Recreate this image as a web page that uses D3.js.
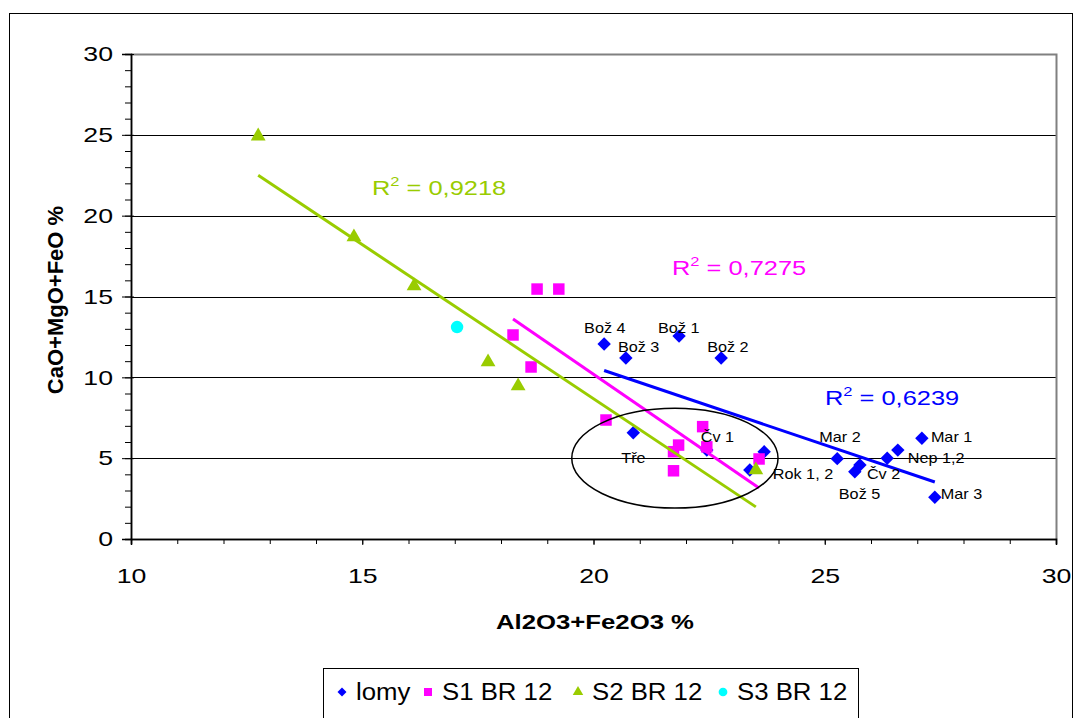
<!DOCTYPE html>
<html>
<head>
<meta charset="utf-8">
<title>CaO+MgO+FeO vs Al2O3+Fe2O3</title>
<script src="https://cdnjs.cloudflare.com/ajax/libs/d3/7.8.5/d3.min.js"></script>
<style>
  html, body { margin: 0; padding: 0; background: #fff; }
  svg { display: block; font-family: Arial, 'Liberation Sans', sans-serif; }
</style>
</head>
<body>
<svg id="chart" width="1079" height="718"></svg>
<script>
// ---- data ----
var seriesNames = ['lomy', 'S1 BR 12', 'S2 BR 12', 'S3 BR 12'];

var lomyX = [20.23, 20.70, 21.85, 22.76, 20.86, 22.45, 23.69, 23.38, 25.27, 25.76, 25.65, 26.35, 26.58, 27.10, 27.38];
var lomyY = [12.06, 11.20, 12.55, 11.20, 6.57, 5.50, 5.40, 4.27, 4.97, 4.58, 4.16, 5.00, 5.50, 6.23, 2.58];
var lomyLabels = ['Bož 4', 'Bož 3', 'Bož 1', 'Bož 2', 'Tře', 'Čv 1', '', 'Rok 1, 2', 'Mar 2', 'Čv 2', 'Bož 5', '', 'Nep 1,2', 'Mar 1', 'Mar 3'];

var s1X = [18.78, 19.25, 18.26, 18.65, 20.27, 22.36, 21.84, 21.73, 22.45, 21.73, 23.58];
var s1Y = [15.46, 15.46, 12.62, 10.64, 7.36, 6.95, 5.81, 5.40, 5.70, 4.22, 4.95];

var s2X = [12.75, 14.82, 16.12, 17.72, 18.37, 23.51];
var s2Y = [24.92, 18.68, 15.65, 10.95, 9.46, 4.27];

var s3X = [17.05];
var s3Y = [13.11];

var r2Labels = ['0,6239', '0,7275', '0,9218']; // lomy, S1, S2

var xTicks = [10, 15, 20, 25, 30];
var yTicks = [0, 5, 10, 15, 20, 25, 30];

// ---- layout / style ----
var colors = ['#0000ff', '#ff00ff', '#99cc00', '#00ffff'];
var shapes = ['diamond', 'square', 'triangle', 'circle'];
var markerSize = { diamond: 90, square: 132, triangle: 95, circle: 123 };
var legendSize = { diamond: 40, square: 64, triangle: 48, circle: 60 };

// label offsets from the marker, in px (left of text, baseline)
var labelOffsets = {
  'Bož 4': [-20, -11], 'Bož 1': [-21, -3], 'Bož 3': [-8, -6], 'Bož 2': [-14, -6],
  'Tře': [-12, 30], 'Čv 1': [-6, -8], 'Rok 1, 2': [23, 9], 'Mar 2': [-18, -17],
  'Mar 1': [9, 4], 'Nep 1,2': [10, 13], 'Čv 2': [7, 14], 'Bož 5': [-16, 27], 'Mar 3': [6, 2]
};
// R² label anchors (px: left, baseline)
var r2Pos = [[825, 405], [672, 275], [372, 195]];

// the original picture is stretched sideways; mimic it on the text
function stretch(sel, k) {
  sel.each(function () {
    var w = this.getComputedTextLength();
    d3.select(this).attr('textLength', w * k).attr('lengthAdjust', 'spacingAndGlyphs');
  });
}

var svg = d3.select('#chart');
var x = d3.scaleLinear().domain([10, 30]).range([131, 1056]);
var y = d3.scaleLinear().domain([0, 30]).range([539, 54]);

// outer chart border
svg.append('rect').attr('x', 9.5).attr('y', 13.5).attr('width', 1063).attr('height', 730)
  .attr('fill', 'none').attr('stroke', '#000').attr('stroke-width', 1);

// gridlines
svg.append('g').selectAll('line').data(yTicks.filter(function (d) { return d > 0 && d < 30; }))
  .join('line')
  .attr('x1', x(10)).attr('x2', x(30))
  .attr('y1', function (d) { return Math.round(y(d)) + 0.5; })
  .attr('y2', function (d) { return Math.round(y(d)) + 0.5; })
  .attr('stroke', '#000').attr('stroke-width', 1);

// plot frame top/right (grey)
svg.append('path')
  .attr('d', 'M' + x(10) + ',' + (y(30) + 0.5) + 'H' + (x(30) + 0.5) + 'V' + y(0))
  .attr('fill', 'none').attr('stroke', '#808080').attr('stroke-width', 2);

// axes
var yAxis = d3.axisLeft(y).tickValues(yTicks).tickSize(9).tickPadding(9).tickFormat(d3.format('d'));
var yMinor = d3.axisLeft(y).ticks(30).tickSize(6).tickFormat('');
var xAxis = d3.axisBottom(x).tickValues(xTicks).tickSize(6).tickPadding(23).tickFormat(d3.format('d'));
var xMinor = d3.axisBottom(x).ticks(20).tickSize(5).tickFormat('');

function styleAxis(g) {
  g.select('.domain').attr('stroke', '#000').attr('stroke-width', 1.5);
  g.selectAll('.tick line').attr('stroke', '#000');
  g.selectAll('.tick text').attr('font-size', 21).attr('fill', '#000')
    .attr('font-family', 'Arial, Liberation Sans, sans-serif');
}
svg.append('g').attr('transform', 'translate(' + x(10) + ',0)').call(yMinor).call(styleAxis);
var gy = svg.append('g').attr('transform', 'translate(' + x(10) + ',0)').call(yAxis).call(styleAxis);
gy.selectAll('.tick line').attr('x2', 3).attr('x1', -9);
stretch(gy.selectAll('.tick text'), 1.27);
svg.append('g').attr('transform', 'translate(0,' + y(0) + ')').call(xMinor).call(styleAxis);
var gx = svg.append('g').attr('transform', 'translate(0,' + y(0) + ')').call(xAxis).call(styleAxis);
stretch(gx.selectAll('.tick text'), 1.27);

// axis titles
svg.append('text').attr('x', 595).attr('y', 629).attr('text-anchor', 'middle')
  .attr('font-size', 21).attr('font-weight', 'bold').attr('textLength', 198).attr('lengthAdjust', 'spacingAndGlyphs')
  .text('Al2O3+Fe2O3 %');
svg.append('text').attr('transform', 'translate(63,300) rotate(-90)').attr('text-anchor', 'middle')
  .attr('font-size', 22).attr('font-weight', 'bold')
  .text('CaO+MgO+FeO %');

// markers
function symbolPath(shape, size) {
  if (shape === 'diamond') return d3.symbol(d3.symbolSquare, size)();
  if (shape === 'square') return d3.symbol(d3.symbolSquare, size)();
  if (shape === 'triangle') return d3.symbol(d3.symbolTriangle, size)();
  return d3.symbol(d3.symbolCircle, size)();
}
var series = [
  { xs: lomyX, ys: lomyY },
  { xs: s1X, ys: s1Y },
  { xs: s2X, ys: s2Y },
  { xs: s3X, ys: s3Y }
];
series.forEach(function (s, i) {
  var pts = s.xs.map(function (v, j) { return [v, s.ys[j]]; });
  svg.append('g').selectAll('path').data(pts).join('path')
    .attr('d', symbolPath(shapes[i], markerSize[shapes[i]]))
    .attr('transform', function (d) {
      return 'translate(' + x(d[0]) + ',' + y(d[1]) + ')' + (shapes[i] === 'diamond' ? ' rotate(45)' : '');
    })
    .attr('fill', colors[i]);
});

// linear trendlines (least squares) for lomy, S1, S2
function fit(xs, ys) {
  var mx = d3.mean(xs), my = d3.mean(ys);
  var sxy = d3.sum(xs, function (v, j) { return (v - mx) * (ys[j] - my); });
  var sxx = d3.sum(xs, function (v) { return (v - mx) * (v - mx); });
  var b = sxy / sxx;
  return { b: b, a: my - b * mx };
}
[0, 1, 2].forEach(function (i) {
  var s = series[i];
  var f = fit(s.xs, s.ys);
  var x0 = d3.min(s.xs), x1 = d3.max(s.xs);
  svg.append('line')
    .attr('x1', x(x0)).attr('y1', y(f.a + f.b * x0))
    .attr('x2', x(x1)).attr('y2', y(f.a + f.b * x1))
    .attr('stroke', colors[i]).attr('stroke-width', 3);
  var t = svg.append('text').attr('x', r2Pos[i][0]).attr('y', r2Pos[i][1])
    .attr('fill', colors[i]).attr('font-size', 20)
    .attr('transform', 'translate(' + r2Pos[i][0] + ',0) scale(1.27,1) translate(' + (-r2Pos[i][0]) + ',0)');
  t.append('tspan').text('R');
  t.append('tspan').attr('font-size', 13).attr('dy', -9).text('2');
  t.append('tspan').attr('dy', 9).text(' = ' + r2Labels[i]);
});

// point labels
svg.append('g').selectAll('text')
  .data(lomyX.map(function (v, j) { return [v, lomyY[j], lomyLabels[j]]; }).filter(function (d) { return d[2]; }))
  .join('text')
  .attr('x', function (d) { return x(d[0]) + labelOffsets[d[2]][0]; })
  .attr('y', function (d) { return y(d[1]) + labelOffsets[d[2]][1]; })
  .attr('font-size', 15).attr('fill', '#000')
  .text(function (d) { return d[2]; })
  .call(stretch, 1.08);

// ellipse annotation (data units: cx, cy, rx, ry)
var ellipse = [21.76, 5.0, 2.23, 3.09];
svg.append('ellipse')
  .attr('cx', x(ellipse[0])).attr('cy', y(ellipse[1]))
  .attr('rx', x(ellipse[0] + ellipse[2]) - x(ellipse[0]))
  .attr('ry', y(0) - y(ellipse[3]))
  .attr('fill', 'none').attr('stroke', '#000').attr('stroke-width', 1.5);

// legend
var legend = svg.append('g');
legend.append('rect').attr('x', 323.5).attr('y', 668.5).attr('width', 535).attr('height', 60)
  .attr('fill', '#fff').attr('stroke', '#000').attr('stroke-width', 1);
var legendX = [342, 428, 578, 723];
seriesNames.forEach(function (name, i) {
  legend.append('path')
    .attr('d', symbolPath(shapes[i], legendSize[shapes[i]]))
    .attr('transform', 'translate(' + legendX[i] + ',692)' + (shapes[i] === 'diamond' ? ' rotate(45)' : ''))
    .attr('fill', colors[i]);
  legend.append('text').attr('x', legendX[i] + 14).attr('y', 700)
    .attr('font-size', 23).attr('fill', '#000').text(name)
    .call(stretch, 1.12);
});
</script>
</body>
</html>
